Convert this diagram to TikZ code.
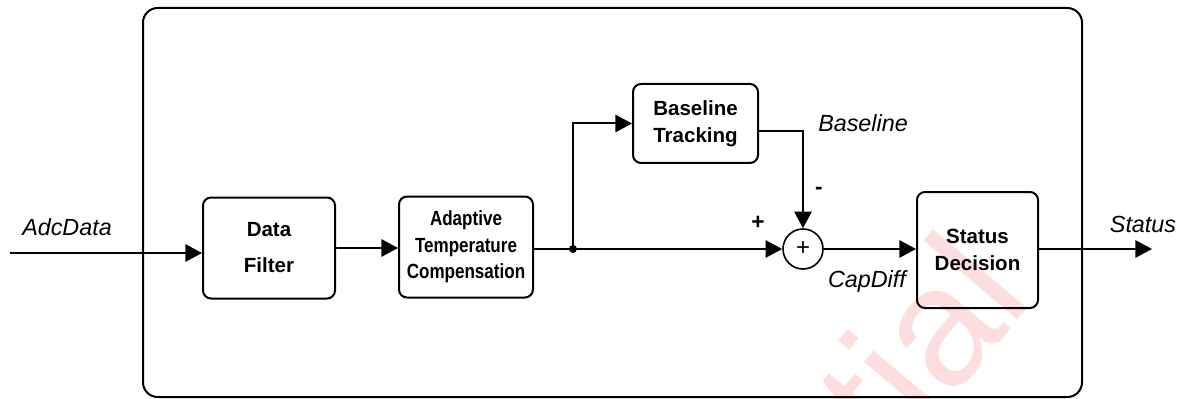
\documentclass[tikz,border=0pt]{standalone}
\usepackage{xcolor}
\usepackage{fontspec}
\setmainfont{Liberation Sans}
\newfontfamily\narrowfont[FakeStretch=0.83]{Liberation Sans}
\usepackage{tikz}
\usetikzlibrary{positioning, arrows.meta}

\definecolor{wmred}{RGB}{253,222,222}

\begin{document}
\begin{tikzpicture}[x=0.75pt,y=0.75pt,yscale=-1,xscale=1,
        blockbox/.style={draw, line width=1.5pt, rounded corners=6pt, inner sep=0pt, align=center,
            font=\fontsize{15.4}{20}\selectfont\bfseries},
        sumnode/.style={draw, circle, line width=1.2pt, minimum size=30pt, inner sep=0pt,
            font=\fontsize{18}{18}\selectfont},
        flow/.style={line width=1.5pt, -{Triangle[length=12.5pt,width=13pt]}},
        sig/.style={inner sep=0pt, font=\fontsize{17.5}{17.5}\selectfont\itshape},
        sign/.style={inner sep=0pt, font=\fontsize{17}{17}\selectfont\bfseries},
        watermark/.style={inner sep=0pt, text=wmred, font=\fontsize{127}{127}\selectfont}]
    \useasboundingbox (0,0) rectangle (1188,399);
    % watermark (cut off at the bottom)
    \node[watermark, rotate=50, anchor=base east] (wm) at (1035,299) {tial};
    % outer frame
    \draw [line width=1.5pt, rounded corners=11pt] (143,8) rectangle (1082,397);
    % blocks
    \node[blockbox, minimum width=99pt, minimum height=75.75pt,
          font=\fontsize{15.4}{27}\selectfont\bfseries] (filter) at (269,248) {Data\\Filter};
    \node[blockbox, minimum width=100.5pt, minimum height=75.75pt,
          font=\narrowfont\fontsize{15.4}{20}\selectfont\bfseries] (atc) at (466,247) {Adaptive\\Temperature\\Compensation};
    \node[blockbox, minimum width=93.75pt, minimum height=59.25pt] (bt) at (695.5,123.5) {Baseline\\Tracking};
    \node[blockbox, minimum width=90.75pt, minimum height=87pt] (decision) at (977.5,250) {Status\\Decision};
    \node[sumnode] (sum) at (803,249) {+};
    \coordinate (split) at (573,249);
    \coordinate (adcin) at (10,253);
    \coordinate (statusout) at (1152,249);
    % connectors
    \draw[flow] (adcin) -- (adcin -| filter.west);
    \draw[flow] (filter.east) -- (filter.east -| atc.west);
    \draw[flow] (atc.east |- sum) -- (sum.west);
    \draw[flow] (split) |- (bt.west);
    \draw[flow] ([yshift=5.6pt]bt.east) -| (sum.north);
    \draw[flow] (sum.east) -- (sum.east -| decision.west);
    \draw[flow] (decision.east |- statusout) -- (statusout);
    \fill (split) circle (3pt);
    % labels
    \node[sig, anchor=base] (adclabel) at (67,235) {AdcData};
    \node[sig, anchor=base] (baselabel) at (863,132) {Baseline};
    \node[sig, anchor=base] (capdifflabel) at (867,287) {CapDiff};
    \node[sig, anchor=base] (statuslabel) at (1143,232) {Status};
    \node[sign] (plus) at (758,223) {+};
    \node[sign] (minus) at (819,191) {-};
\end{tikzpicture}
\end{document}
